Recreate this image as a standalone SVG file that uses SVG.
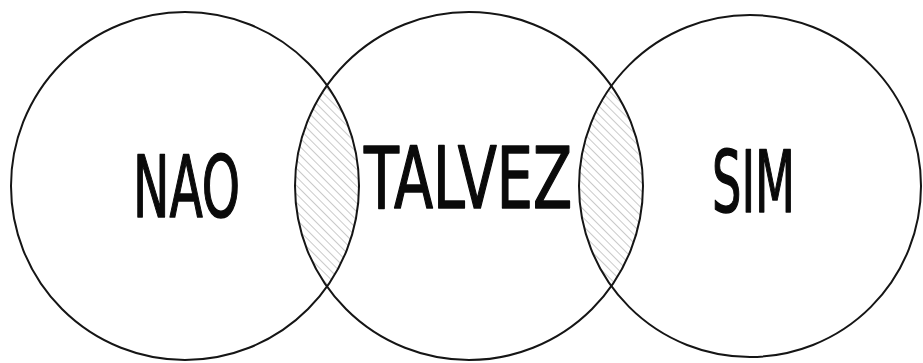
<svg xmlns="http://www.w3.org/2000/svg" width="923" height="363" viewBox="0 0 923 363">
  <style>
    .ring { fill: none; stroke: #151515; stroke-width: 2; }
    .label { font-family: "DejaVu Sans Condensed", "DejaVu Sans", sans-serif; font-size: 86px; fill: #0a0a0a; stroke: #0a0a0a; stroke-width: 1.5; stroke-linejoin: round; }
  </style>
  <defs>
    <pattern id="hatch" patternUnits="userSpaceOnUse" width="6" height="6" patternTransform="rotate(-45)">
      <line x1="0" y1="0" x2="0" y2="6" stroke="#8a8a8a" stroke-width="0.9"/>
    </pattern>
    <clipPath id="clipLeft"><circle cx="185" cy="186" r="174"/></clipPath>
    <clipPath id="clipRight"><circle cx="750" cy="186" r="171"/></clipPath>
  </defs>
  <rect width="923" height="363" fill="#ffffff"/>
  <g id="overlaps">
    <circle cx="469" cy="186" r="174" fill="url(#hatch)" clip-path="url(#clipLeft)"/>
    <circle cx="469" cy="186" r="174" fill="url(#hatch)" clip-path="url(#clipRight)"/>
  </g>
  <g id="nao">
    <circle class="ring" cx="185" cy="186" r="174"/>
    <text class="label" x="133" y="217" textLength="107" lengthAdjust="spacingAndGlyphs">NAO</text>
  </g>
  <g id="talvez">
    <circle class="ring" cx="469" cy="186" r="174"/>
    <text class="label" x="364" y="208" textLength="208" lengthAdjust="spacingAndGlyphs">TALVEZ</text>
  </g>
  <g id="sim">
    <circle class="ring" cx="750" cy="186" r="171"/>
    <text class="label" x="712" y="212" textLength="83" lengthAdjust="spacingAndGlyphs">SIM</text>
  </g>
</svg>
